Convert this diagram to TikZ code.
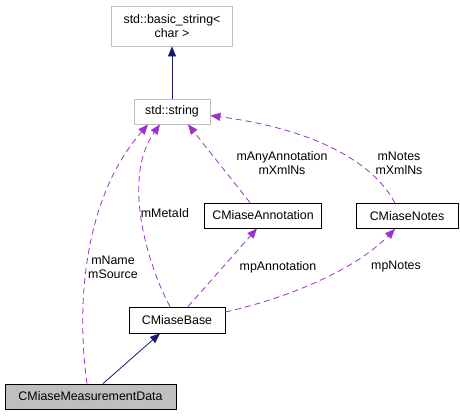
\documentclass[tikz,border=0pt]{standalone}
\usepackage{fontspec}
\setmainfont{Liberation Sans}
\usetikzlibrary{arrows.meta}
\definecolor{Navy}{HTML}{191970}
\definecolor{Orchid}{HTML}{9A32CD}
\definecolor{Grey}{HTML}{BFBFBF}

\begin{document}
\begin{tikzpicture}[x=1pt,y=1pt,font=\fontsize{12.4}{14}\selectfont,
    cls/.style={draw,line width=0.8pt,inner sep=0pt,align=center,minimum height=25pt},
    ext/.style={cls,draw=Grey},
    inherit/.style={-{Triangle[length=10pt,width=8pt]},Navy,line width=0.8pt},
    usage/.style={-{Triangle[length=10pt,width=8pt]},Orchid,line width=0.8pt,dash pattern=on 6pt off 4pt},
    lbl/.style={align=center,inner sep=0pt}]
    \useasboundingbox (0,0) rectangle (460,-416);
    \node[ext,minimum width=121pt,minimum height=40pt] (bstr) at (172,-26) {std::basic\_string<\\char >};
    \node[ext,minimum width=76pt] (str) at (172,-111.5) {std::string};
    \node[cls,minimum width=117pt] (ann) at (263,-215.5) {CMiaseAnnotation};
    \node[cls,minimum width=102pt] (notes) at (407,-216) {CMiaseNotes};
    \node[cls,minimum width=96pt,minimum height=26pt] (base) at (177,-320) {CMiaseBase};
    \node[cls,fill=Grey,minimum width=171pt] (meas) at (90.5,-396.5) {CMiaseMeasurementData};
    % inheritance
    \draw[inherit] (str)--(bstr);
    \draw[inherit] ([xshift=12.5pt]meas.north)--([xshift=-17pt]base.south);
    % members
    \draw[usage] ([xshift=-3.5pt]meas.north) .. controls (78,-320) and (78,-205) .. ([xshift=-24pt]str.south);
    \draw[usage] ([xshift=-7pt]base.north) .. controls (150,-270) and (120,-180) .. ([xshift=-12pt]str.south);
    \draw[usage] ([xshift=-13pt]ann.north)--([xshift=16pt]str.south);
    \draw[usage] ([xshift=-12pt]notes.north) .. controls (375,-165) and (320,-130) .. ([yshift=-4pt]str.east);
    \draw[usage] ([xshift=11pt]base.north)--([xshift=-6pt]ann.south);
    \draw[usage] ([yshift=8pt]base.east) .. controls (300,-295) and (360,-265) .. ([xshift=-12pt]notes.south);
    \node[lbl] (l1) at (113,-267) {mName\\mSource};
    \node[lbl] (l2) at (165,-213) {mMetaId};
    \node[lbl] (l3) at (282,-163) {mAnyAnnotation\\mXmlNs};
    \node[lbl] (l4) at (399,-163) {mNotes\\mXmlNs};
    \node[lbl] (l5) at (278,-267) {mpAnnotation};
    \node[lbl] (l6) at (396,-267) {mpNotes};
  \end{tikzpicture}
\end{document}
